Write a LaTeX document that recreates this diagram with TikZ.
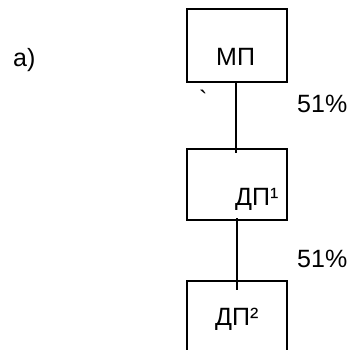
\documentclass[tikz,border=0pt]{standalone}
\usepackage{fontspec}
\setmainfont{Liberation Sans}
\newfontfamily\plainfont{Liberation Sans}
\usepackage{tikz}

\begin{document}
\begin{tikzpicture}[x=1pt,y=-1pt,
    firm/.style={draw,line width=1.6pt,inner sep=0pt,minimum width=100pt},
    txt/.style={inner sep=0pt,anchor=base west,font=\fontsize{25}{30}\selectfont}]
    \useasboundingbox (0,0) rectangle (351,349);
    \clip (0,0) rectangle (351,349);
    \node[firm,minimum height=73pt] (mp) at (237,45.5) {};
    \node[firm,minimum height=71pt] (dp1) at (237,184.5) {};
    \node[firm,minimum height=100pt] (dp2) at (237,331) {};
    \node[txt] (a) at (13,66) {a)};
    \node[txt] (t1) at (216,65) {МП};
    \node[txt] (t2) at (235,205) {ДП¹};
    \node[txt] (t3) at (215,325) {ДП²};
    \node[txt] (p1) at (297,112) {51\%};
    \node[txt] (p2) at (297,267) {51\%};
    \node[txt] (q) at (199,108) {\plainfont `};
    \coordinate (e1) at (236,153);
    \coordinate (s2) at (237,218);
    \coordinate (e2) at (237,290);
    \draw [line width=1.4pt] (mp.south -| e1) -- (e1);
    \draw [line width=1.4pt] (s2) -- (e2);
  \end{tikzpicture}
\end{document}
